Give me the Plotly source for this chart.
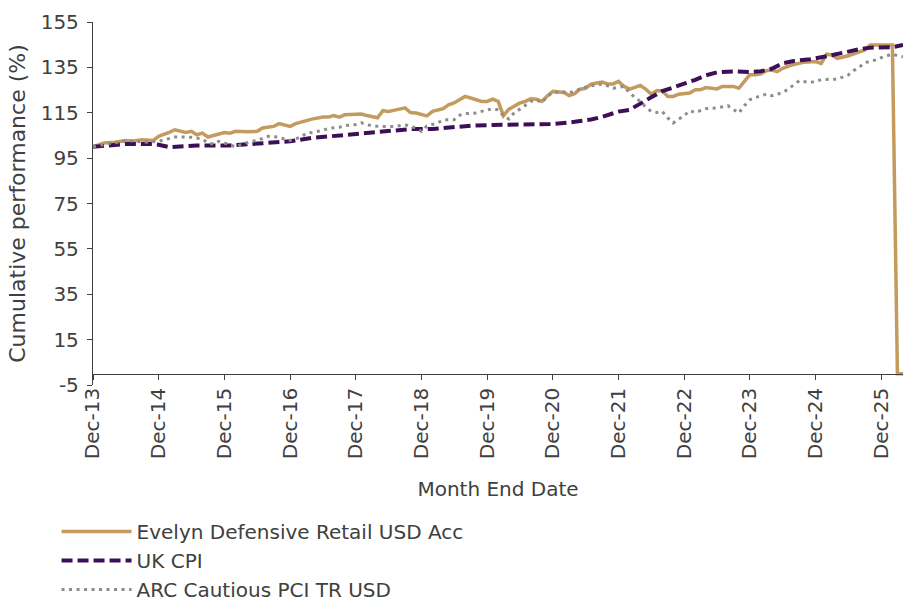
import plotly.graph_objects as go

# ---------------- data ----------------
evelyn_dates = ["2013-12", "2014-02", "2014-04", "2014-06", "2014-07", "2014-09", "2014-11", "2014-12",
                "2015-02", "2015-03", "2015-05", "2015-06", "2015-07", "2015-08", "2015-09", "2015-11", "2015-12",
                "2016-01", "2016-02", "2016-04", "2016-06", "2016-07", "2016-09", "2016-10", "2016-12",
                "2017-01", "2017-03", "2017-04", "2017-06", "2017-07", "2017-08", "2017-09", "2017-10", "2017-12",
                "2018-01", "2018-02", "2018-04", "2018-05", "2018-06", "2018-08", "2018-09", "2018-10", "2018-11",
                "2019-01", "2019-02", "2019-04", "2019-05", "2019-06", "2019-08", "2019-09", "2019-11", "2019-12",
                "2020-01", "2020-02", "2020-03", "2020-04", "2020-06", "2020-07", "2020-08", "2020-09", "2020-10",
                "2020-11", "2020-12",
                "2021-02", "2021-03", "2021-04", "2021-05", "2021-06", "2021-07", "2021-09", "2021-10", "2021-11",
                "2021-12",
                "2022-01", "2022-02", "2022-04", "2022-05", "2022-06", "2022-07", "2022-08", "2022-09", "2022-10",
                "2022-11",
                "2023-01", "2023-02", "2023-03", "2023-04", "2023-06", "2023-07", "2023-09", "2023-10", "2023-12",
                "2024-01", "2024-02", "2024-03", "2024-04", "2024-05", "2024-06", "2024-08", "2024-10", "2024-12",
                "2025-01", "2025-02", "2025-03", "2025-04", "2025-06", "2025-08", "2025-09", "2025-10",
                "2026-02", "2026-03", "2026-04"]
evelyn_values = [100, 101.7, 102, 102.8, 102.4, 103.1, 102.8, 104.6,
                 106.5, 107.5, 106.3, 106.8, 105.3, 106, 104.3, 105.8, 106.3,
                 106, 106.8, 106.6, 106.8, 108.3, 109, 110.2, 109,
                 110.2, 111.6, 112.2, 113.1, 113.1, 113.8, 113.1, 114.1, 114.1,
                 114.4, 113.8, 112.8, 115.9, 115.6, 116.6, 117.1, 115.1, 114.9,
                 113.6, 115.6, 116.8, 118.5, 119.3, 122.2, 121.5, 120, 120,
                 121, 120, 113.7, 116.6, 119.3, 120, 121.2, 121, 120,
                 122.5, 124.4,
                 123.9, 122.6, 123.4, 125.4, 125.8, 127.6, 128.5, 127.7, 127.7,
                 128.8,
                 126.6, 125.4, 127, 125.4, 123.2, 124.7, 124.7, 122.2, 122.2,
                 123.2,
                 123.7, 125.1, 125.1, 126.1, 125.5, 126.6, 126.6, 125.8, 131.7,
                 131.7, 132.1, 133.5, 133.8, 133.1, 134.6, 136.3, 137.3, 137.6,
                 136.8, 140.8, 140.5, 139, 140.1, 142, 142.7, 144.9,
                 144.9, 0, 0]

cpi_dates = ["2013-12", "2014-03", "2014-06", "2014-11", "2014-12", "2015-02", "2015-04", "2015-07",
             "2016-01", "2016-05", "2016-08", "2016-12", "2017-04", "2017-07", "2017-11", "2018-02",
             "2018-06", "2018-10", "2019-02", "2019-06", "2019-09", "2020-01", "2020-04", "2020-08",
             "2020-12", "2021-04", "2021-07", "2021-09", "2021-12", "2022-02", "2022-04", "2022-06",
             "2022-08", "2022-10", "2022-12", "2023-02", "2023-04", "2023-06", "2023-09", "2023-12",
             "2024-02", "2024-04", "2024-06", "2024-08", "2024-11", "2025-02", "2025-05", "2025-08",
             "2025-10", "2026-01", "2026-02", "2026-04"]
cpi_values = [100, 100.6, 101.2, 101.2, 100.9, 99.8, 100.2, 100.6,
              100.6, 101.4, 101.7, 102.4, 103.9, 104.6, 105.3, 106,
              107.1, 107.8, 107.8, 108.8, 109.3, 109.6, 109.8, 109.8,
              110, 111, 112, 113.2, 115.5, 116.3, 118.8, 121.8,
              124.5, 126, 127.8, 129.5, 131.5, 132.8, 133.2, 133,
              133.3, 134.4, 136.8, 137.8, 138.6, 139.9, 141.6, 143,
              143.7, 143.7, 143.9, 144.9]

arc_dates = ["2013-12", "2014-03", "2014-05", "2014-06", "2014-08", "2014-10", "2014-12",
             "2015-02", "2015-03", "2015-04", "2015-06", "2015-08", "2015-09", "2015-10", "2015-11",
             "2016-01", "2016-02", "2016-03", "2016-05", "2016-06", "2016-08", "2016-09", "2016-11", "2016-12",
             "2017-02", "2017-03", "2017-04", "2017-06", "2017-07", "2017-09", "2017-10", "2017-12",
             "2018-01", "2018-02", "2018-04", "2018-05", "2018-07", "2018-09", "2018-10", "2018-11", "2018-12",
             "2019-01", "2019-03", "2019-04", "2019-06", "2019-07", "2019-08", "2019-10", "2019-11",
             "2020-01", "2020-02", "2020-03", "2020-04", "2020-05", "2020-06", "2020-08", "2020-09", "2020-10",
             "2020-11", "2020-12",
             "2021-02", "2021-03", "2021-05", "2021-06", "2021-08", "2021-09", "2021-10", "2021-11",
             "2022-01", "2022-02", "2022-03", "2022-04", "2022-05", "2022-06", "2022-07", "2022-08", "2022-09",
             "2022-10", "2022-11", "2022-12",
             "2023-01", "2023-02", "2023-04", "2023-05", "2023-06", "2023-08", "2023-09", "2023-10", "2023-11",
             "2023-12",
             "2024-01", "2024-03", "2024-04", "2024-06", "2024-07", "2024-08", "2024-09", "2024-11", "2024-12",
             "2025-01", "2025-03", "2025-04", "2025-06", "2025-07", "2025-08", "2025-09", "2025-11", "2025-12",
             "2026-02", "2026-03", "2026-04"]
arc_values = [100, 101.4, 102, 102.8, 102.4, 102, 102.4,
              103.9, 104.3, 104.3, 104.2, 103.4, 101.7, 101.2, 102.4,
              100.9, 99.9, 100.9, 102.4, 102.8, 104.6, 104.6, 103.4, 102.8,
              104.3, 106, 106.3, 107.2, 108.1, 108.6, 109.3, 109.8,
              110.6, 109.7, 109, 109, 108.9, 109.7, 109, 108.2, 106.8,
              109.2, 110.5, 111.9, 111.9, 113.9, 114.6, 114.9, 115.6,
              116.8, 116.3, 113.7, 112.2, 115.1, 116.6, 120, 120.7, 119.5,
              122.2, 124,
              124.1, 123.7, 125.4, 126.3, 127.3, 127.6, 126.9, 125.8,
              126.6, 123.7, 121.9, 120, 117.5, 115.6, 115.1, 115.6, 112.7,
              110.5, 112.2, 113.7,
              115.9, 115.1, 116.8, 116.8, 117.1, 118.1, 116.3, 114.9, 118.1,
              120.7,
              121.7, 123.2, 122.5, 123.9, 125.4, 127.3, 129.1, 128.3, 128.8,
              129.5, 129.8, 129.8, 131.7, 133.6, 135.1, 137.1, 138.3, 139.3,
              140.9, 140.1, 139.7]

series_names = ["Evelyn Defensive Retail USD Acc", "UK CPI", "ARC Cautious PCI TR USD"]

x_tick_dates = ["2013-12", "2014-12", "2015-12", "2016-12", "2017-12", "2018-12", "2019-12",
                "2020-12", "2021-12", "2022-12", "2023-12", "2024-12", "2025-12"]
x_tick_labels = ["Dec-13", "Dec-14", "Dec-15", "Dec-16", "Dec-17", "Dec-18", "Dec-19",
                 "Dec-20", "Dec-21", "Dec-22", "Dec-23", "Dec-24", "Dec-25"]
y_ticks = [-5, 15, 35, 55, 75, 95, 115, 135, 155]
y_tick_labels = ["-5", "15", "35", "55", "75", "95", "115", "135", "155"]

# ---------------- styling ----------------
GOLD = "#C39B5E"
PURPLE = "#3C0F57"
GREY = "#8C8C8C"
TXT = "#404040"
FONT = "DejaVu Sans"

fig = go.Figure()
fig.add_trace(go.Scatter(x=evelyn_dates, y=evelyn_values, mode="lines", name=series_names[0],
                         line=dict(color=GOLD, width=3.5)))
fig.add_trace(go.Scatter(x=cpi_dates, y=cpi_values, mode="lines", name=series_names[1],
                         line=dict(color=PURPLE, width=4, dash="11px,5px")))
fig.add_trace(go.Scatter(x=arc_dates, y=arc_values, mode="lines", name=series_names[2],
                         line=dict(color=GREY, width=3, dash="3px,4.5px")))

fig.update_layout(
    width=914, height=597,
    margin=dict(l=93, r=11, t=22, b=212, autoexpand=False),
    paper_bgcolor="white", plot_bgcolor="white",
    font=dict(family=FONT, size=20, color=TXT),
    showlegend=True,
    legend=dict(orientation="v", x=-0.045, xanchor="left", y=-0.35, yanchor="top",
                font=dict(size=20, color=TXT), itemwidth=70, tracegroupgap=0,
                bgcolor="rgba(0,0,0,0)"),
    xaxis=dict(
        type="date", range=["2013-12", "2026-04"],
        tickvals=x_tick_dates, ticktext=x_tick_labels, tickangle=-90,
        showgrid=False, zeroline=False,
        showline=True, linecolor=TXT, linewidth=1.3,
        ticks="outside", ticklen=5, tickcolor=TXT, tickwidth=1.3,
        anchor="free", position=5 / 160,
        title=dict(text="Month End Date", font=dict(size=20, color=TXT), standoff=23),
    ),
    yaxis=dict(
        range=[-5, 155], tickvals=y_ticks, ticktext=y_tick_labels,
        showgrid=False, zeroline=False,
        showline=True, linecolor=TXT, linewidth=1.3,
        ticks="outside", ticklen=5, tickcolor=TXT, tickwidth=1.3,
        ticklabelstandoff=4,
        title=dict(text="Cumulative performance (%)", font=dict(size=22, color=TXT), standoff=8),
    ),
)

fig.write_html("out.html", config={"displayModeBar": False},
               post_script="document.body.style.margin='0';")
